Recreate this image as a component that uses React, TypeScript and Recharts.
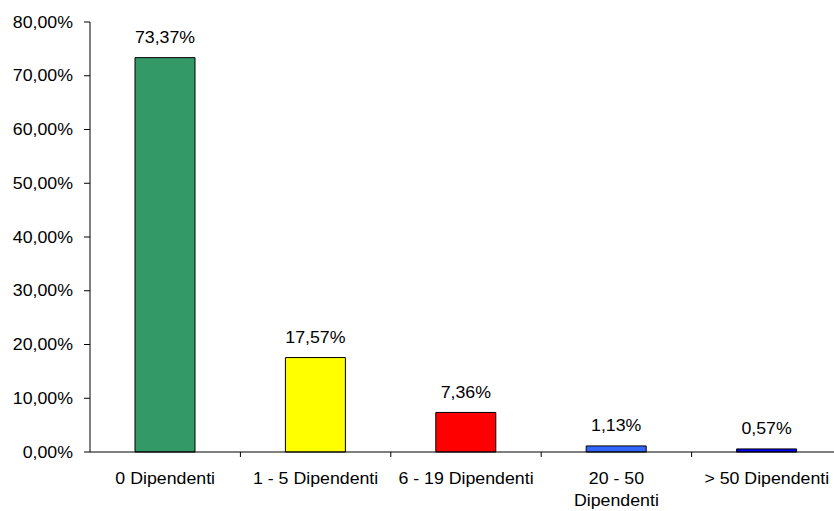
import { BarChart, Bar, XAxis, YAxis, Cell, LabelList } from 'recharts';

const categories = ['0 Dipendenti', '1 - 5 Dipendenti', '6 - 19 Dipendenti', '20 - 50\nDipendenti', '> 50 Dipendenti'];
const shares = [73.37, 17.57, 7.36, 1.13, 0.57];
const barColors = ['#339966', '#FFFF00', '#FF0000', '#3366FF', '#0000FF'];
const yTicks = [0, 10, 20, 30, 40, 50, 60, 70, 80];

const chartData = categories.map((name, i) => ({ name, value: shares[i] }));

const fmt = (v: number) => v.toFixed(2).replace('.', ',') + '%';

const FONT = 'Arial, "Liberation Sans", sans-serif';

// text slightly stretched horizontally, like the original export
function SText({ x, y, anchor, children }: any) {
  return (
    <text
      transform={`translate(${x},${y}) scale(1.11,1)`}
      textAnchor={anchor}
      fontSize={16}
      fontFamily={FONT}
      fill="#000"
    >
      {children}
    </text>
  );
}

// tick marks sit between categories, labels under the centres
function CategoryTick(props: any) {
  const { x, y, payload } = props;
  const half = 75.2;
  const axisY = y - 8; // y comes in as axis + tickSize + tickMargin
  const lines = String(payload.value).split('\n');
  return (
    <g>
      <line x1={x + half} x2={x + half} y1={axisY} y2={axisY + 5} stroke="#000" />
      {lines.map((l, i) => (
        <SText key={i} x={x} y={axisY + 32 + i * 22} anchor="middle">
          {l}
        </SText>
      ))}
    </g>
  );
}

function ValueTick(props: any) {
  const { x, y, payload } = props;
  return (
    <SText x={x} y={y + 5.7} anchor="end">
      {fmt(payload.value)}
    </SText>
  );
}

function ValueLabel(props: any) {
  const { x, y, width, value } = props;
  return (
    <SText x={x + width / 2} y={y - 14.5} anchor="middle">
      {fmt(Number(value))}
    </SText>
  );
}

export default function App() {
  return (
    <div style={{ position: 'absolute', left: 0, top: 0, width: 834, height: 511, overflow: 'hidden', background: '#fff' }}>
      <BarChart
        width={842}
        height={511}
        data={chartData}
        margin={{ top: 22, right: 0, bottom: 0, left: 0 }}
      >
        <XAxis
          dataKey="name"
          height={59}
          axisLine={{ stroke: '#000' }}
          tickLine={false}
          tick={<CategoryTick />}
          interval={0}
        />
        <YAxis
          width={90}
          domain={[0, 80]}
          ticks={yTicks}
          axisLine={{ stroke: '#000' }}
          tickLine={{ stroke: '#000' }}
          tickSize={6}
          tickMargin={11}
          tick={<ValueTick />}
        />
        <Bar dataKey="value" stroke="#000" strokeWidth={1} isAnimationActive={false} barSize={60}>
          {chartData.map((d, i) => (
            <Cell key={d.name} fill={barColors[i]} />
          ))}
          <LabelList dataKey="value" content={<ValueLabel />} />
        </Bar>
      </BarChart>
    </div>
  );
}
